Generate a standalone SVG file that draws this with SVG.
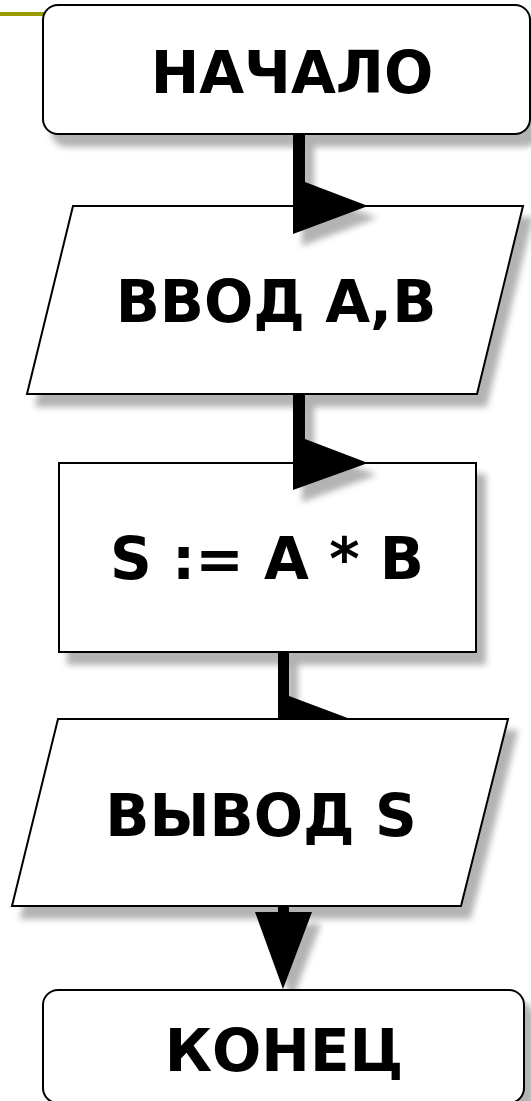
<svg xmlns="http://www.w3.org/2000/svg" width="531" height="1101" viewBox="0 0 531 1101">
  <defs>
    <filter id="shadow" x="-20%" y="-20%" width="140%" height="140%">
      <feGaussianBlur in="SourceAlpha" stdDeviation="3" result="b"/>
      <feOffset in="b" dx="9" dy="12" result="o"/>
      <feFlood flood-color="#000" flood-opacity="0.3"/>
      <feComposite in2="o" operator="in" result="s"/>
      <feMerge>
        <feMergeNode in="s"/>
        <feMergeNode in="SourceGraphic"/>
      </feMerge>
    </filter>
  </defs>
  <style>
    .node { fill: #fff; stroke: #000; stroke-width: 2; filter: url(#shadow); }
    .label { font-family: "DejaVu Sans", Verdana, sans-serif; font-weight: bold; font-size: 58px; fill: #000; text-anchor: middle; }
    .conn { fill: #000; filter: url(#shadow); }
  </style>
  <rect width="531" height="1101" fill="#fff"/>
  <line x1="0" y1="14" x2="45" y2="14" stroke="#999900" stroke-width="4"/>

  <g id="start">
    <rect class="node" x="43" y="5" width="487" height="129" rx="15" ry="15"/>
    <text class="label" x="292" y="93">НАЧАЛО</text>
  </g>

  <g id="input">
    <polygon class="node" points="73,206 523,206 477,394 27,394"/>
    <text class="label" x="276" y="322">ВВОД А,В</text>
  </g>

  <g id="process">
    <rect class="node" x="59" y="463" width="417" height="189"/>
    <text class="label" x="267" y="579">S := A * B</text>
  </g>

  <g id="connectors">
    <path class="conn" d="M293,134 H305 V182 L368,206 L293,234 Z"/>
    <path class="conn" d="M293,394 H305 V439 L368,463 L293,490 Z"/>
    <path class="conn" d="M278,652 H289 V696 L353,720 L278,747 Z"/>
    <path class="conn" d="M278,905 H289 V912 H312 L283,989 L255,912 H278 Z"/>
  </g>

  <g id="output">
    <polygon class="node" points="58,719 508,719 461,906 12,906"/>
    <text class="label" x="261" y="836">ВЫВОД S</text>
  </g>

  <g id="end">
    <rect class="node" x="43" y="990" width="481" height="113" rx="15" ry="15"/>
    <text class="label" x="284" y="1071">КОНЕЦ</text>
  </g>
</svg>
